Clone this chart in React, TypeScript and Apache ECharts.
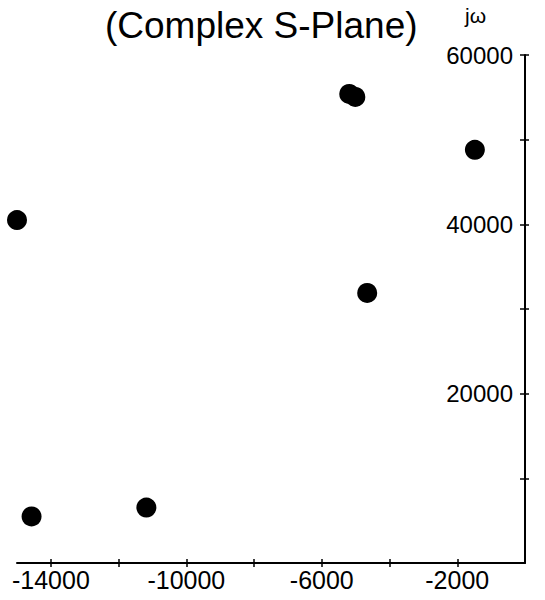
import React, { useEffect, useRef } from "react";
import * as echarts from "echarts";

// Pole locations in the complex s-plane: [sigma, j*omega]
const sigmaValues = [-15000, -14570, -11180, -5190, -5010, -4660, -1480];
const omegaValues = [40500, 5500, 6550, 55400, 55050, 31900, 48800];

const xTickValues = [-14000, -12000, -10000, -8000, -6000, -4000, -2000];
const xLabelValues = [-14000, -10000, -6000, -2000];
const yTickValues = [10000, 20000, 30000, 40000, 50000, 60000];
const yLabelValues = [20000, 40000, 60000];

const titleText = "(Complex S-Plane)";
const yAxisName = "jω";

const FONT = "'Liberation Sans', Arial, Helvetica, sans-serif";

export default function App() {
  const ref = useRef<HTMLDivElement>(null);

  useEffect(() => {
    if (!ref.current) return;
    const chart = echarts.init(ref.current, undefined, { renderer: "svg" });
    const points = sigmaValues.map((s, i) => [s, omegaValues[i]]);
    const lineStyle = { color: "#000", width: 2 };
    const plain = (v: number) => String(v);

    const xBase = {
      type: "value",
      min: -15000,
      max: 0,
      position: "bottom",
      splitLine: { show: false },
    };
    const yBase = {
      type: "value",
      min: 0,
      max: 60000,
      position: "right",
      splitLine: { show: false },
    };

    chart.setOption({
      animation: false,
      backgroundColor: "#fff",
      textStyle: { fontFamily: FONT },
      title: [
        {
          text: titleText,
          left: 100,
          top: 2,
          textStyle: { fontFamily: FONT, fontSize: 37, fontWeight: "normal", color: "#000" },
        },
        {
          text: yAxisName,
          left: 460,
          top: 0,
          textStyle: { fontFamily: FONT, fontSize: 21, fontWeight: "normal", color: "#000" },
        },
      ],
      grid: {
        left: 17,
        right: 20,
        top: 55,
        bottom: 37,
        containLabel: false,
        outerBoundsMode: "none",
      },
      xAxis: [
        {
          ...xBase,
          axisLine: { show: true, lineStyle },
          axisTick: {
            show: true,
            inside: false,
            length: 4,
            lineStyle: { color: "#000", width: 1.5 },
            customValues: xTickValues,
          },
          axisLabel: {
            show: true,
            customValues: xLabelValues,
            formatter: plain,
            fontSize: 25,
            color: "#000",
            fontFamily: FONT,
            margin: 4,
          },
        },
        {
          ...xBase,
          axisLine: { show: false },
          axisTick: {
            show: true,
            inside: true,
            length: 4,
            lineStyle: { color: "#000", width: 1.5 },
            customValues: xTickValues,
          },
          axisLabel: { show: false },
        },
      ],
      yAxis: [
        {
          ...yBase,
          axisLine: { show: true, lineStyle },
          axisTick: {
            show: true,
            inside: false,
            length: 4,
            lineStyle: { color: "#000", width: 1.5 },
            customValues: yTickValues,
          },
          axisLabel: {
            show: true,
            inside: true,
            customValues: yLabelValues,
            formatter: plain,
            fontSize: 24,
            color: "#000",
            fontFamily: FONT,
            margin: 12,
          },
        },
        {
          ...yBase,
          axisLine: { show: false },
          axisTick: {
            show: true,
            inside: true,
            length: 5,
            lineStyle: { color: "#000", width: 1.5 },
            customValues: yTickValues,
          },
          axisLabel: { show: false },
        },
      ],
      series: [
        {
          type: "scatter",
          xAxisIndex: 0,
          yAxisIndex: 0,
          data: points,
          symbol: "circle",
          symbolSize: 20,
          itemStyle: { color: "#000", opacity: 1 },
          clip: false,
        },
      ],
    });

    return () => chart.dispose();
  }, []);

  return (
    <div
      ref={ref}
      style={{ position: "fixed", left: 0, top: 0, width: 545, height: 600, background: "#fff" }}
    />
  );
}
